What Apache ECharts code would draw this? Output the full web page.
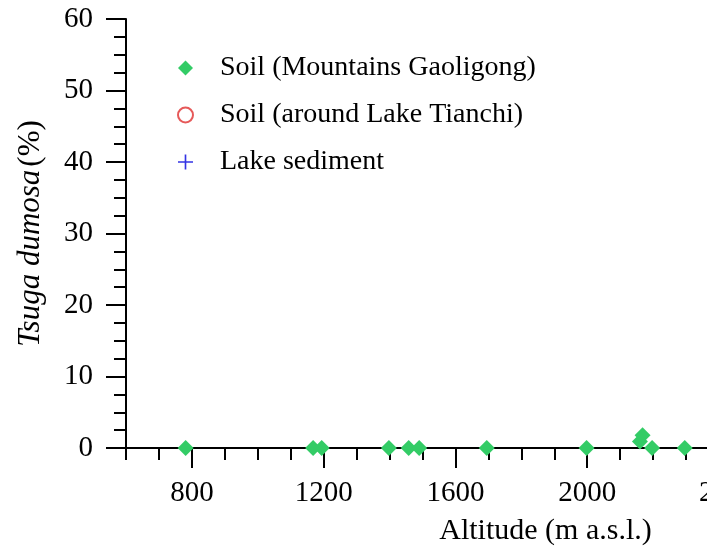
<!DOCTYPE html>
<html>
<head>
<meta charset="utf-8">
<script src="https://cdn.jsdelivr.net/npm/echarts@6/dist/echarts.min.js"></script>
<style>
html,body{margin:0;padding:0;background:#fff;}
#chart{width:707px;height:554px;}
</style>
</head>
<body>
<div id="chart"></div>
<script>
// ---- data ----
var gaoligongAltitude = [781, 1168, 1194, 1398, 1458, 1490, 1695, 1998, 2160, 2168, 2197, 2296];
var gaoligongTsuga    = [0,   0,    0,    0,    0,    0,    0,    0,    0.9,  1.8,  0,    0];
var tianchiAltitude = [];
var tianchiTsuga = [];
var lakeAltitude = [];
var lakeTsuga = [];
var xTickLabels = [800, 1200, 1600, 2000, 2400];
var yTickLabels = [0, 10, 20, 30, 40, 50, 60];
var seriesNames = ['Soil (Mountains Gaoligong)', 'Soil (around Lake Tianchi)', 'Lake sediment'];

function pairs(xs, ys) { return xs.map(function (x, i) { return [x, ys[i]]; }); }

var FONT = 'Liberation Serif';
var chart = echarts.init(document.getElementById('chart'), null, {renderer: 'canvas'});
var plusPath = 'path://M4.45,0 H5.55 V4.45 H10 V5.55 H5.55 V10 H4.45 V5.55 H0 V4.45 H4.45 Z';
var lastX = xTickLabels[xTickLabels.length - 1];

chart.setOption({
  backgroundColor: '#ffffff',
  animation: false,
  textStyle: {fontFamily: FONT, color: '#000'},
  grid: {left: 126, top: 19, bottom: 106, right: -12, containLabel: false, outerBoundsMode: 'none'},
  legend: {
    orient: 'vertical',
    left: 172,
    top: 49,
    itemWidth: 15,
    itemHeight: 15,
    itemGap: 19,
    data: seriesNames,
    textStyle: {fontFamily: FONT, fontSize: 28, color: '#000', padding: [0, 0, 0, 22]}
  },
  xAxis: [{
    type: 'value',
    min: 600,
    max: 2400,
    interval: 100,
    position: 'bottom',
    splitLine: {show: false},
    axisLine: {show: true, onZero: false, lineStyle: {color: '#000', width: 2}},
    axisTick: {show: true, inside: false, length: 12, lineStyle: {color: '#000', width: 2}},
    axisLabel: {
      show: true,
      margin: 31,
      fontFamily: FONT, fontSize: 29, color: '#000',
      formatter: function (v) {
        if (xTickLabels.indexOf(v) < 0) return '';
        return v === lastX ? '{last|' + v + '}' : String(v);
      },
      rich: {last: {fontFamily: FONT, fontSize: 29, color: '#000', padding: [0, 0, 0, 18]}}
    },
    name: 'Altitude (m a.s.l.)',
    nameLocation: 'middle',
    nameGap: 68,
    nameTextStyle: {fontFamily: FONT, fontSize: 30, color: '#000', padding: [0, 0, 0, 246]}
  }, {
    type: 'value',
    min: 600,
    max: 2400,
    position: 'bottom',
    splitLine: {show: false},
    axisLine: {show: false},
    axisLabel: {show: false},
    axisTick: {show: true, inside: false, length: 20, customValues: xTickLabels, lineStyle: {color: '#000', width: 2}}
  }],
  yAxis: {
    type: 'value',
    min: 0,
    max: 60,
    interval: 10,
    splitLine: {show: false},
    axisLine: {show: true, onZero: false, lineStyle: {color: '#000', width: 2}},
    axisTick: {show: true, inside: false, length: 20, lineStyle: {color: '#000', width: 2}},
    minorTick: {show: true, splitNumber: 4, length: 12, lineStyle: {color: '#000', width: 2}},
    axisLabel: {
      margin: 33, fontFamily: FONT, fontSize: 29, color: '#000',
      formatter: function (v) { return yTickLabels.indexOf(v) >= 0 ? String(v) : ''; }
    },
    name: '{i|Tsuga dumosa} {n|(%)}',
    nameLocation: 'middle',
    nameGap: 80,
    nameRotate: 90,
    nameTextStyle: {
      rich: {
        i: {fontFamily: FONT, fontSize: 31, fontStyle: 'italic', color: '#000'},
        n: {fontFamily: FONT, fontSize: 31, color: '#000'}
      }
    }
  },
  series: [{
    name: seriesNames[0],
    type: 'scatter',
    xAxisIndex: 0,
    symbol: 'diamond',
    symbolSize: 16,
    itemStyle: {color: '#33cc66', opacity: 1},
    clip: false,
    data: pairs(gaoligongAltitude, gaoligongTsuga)
  }, {
    name: seriesNames[1],
    type: 'scatter',
    xAxisIndex: 0,
    symbol: 'emptyCircle',
    symbolSize: 15,
    itemStyle: {color: '#e03030', borderColor: '#e03030', borderWidth: 1.5},
    data: pairs(tianchiAltitude, tianchiTsuga)
  }, {
    name: seriesNames[2],
    type: 'scatter',
    xAxisIndex: 0,
    symbol: plusPath,
    symbolSize: 15,
    itemStyle: {color: '#0000dd'},
    data: pairs(lakeAltitude, lakeTsuga)
  }]
});
</script>
</body>
</html>
